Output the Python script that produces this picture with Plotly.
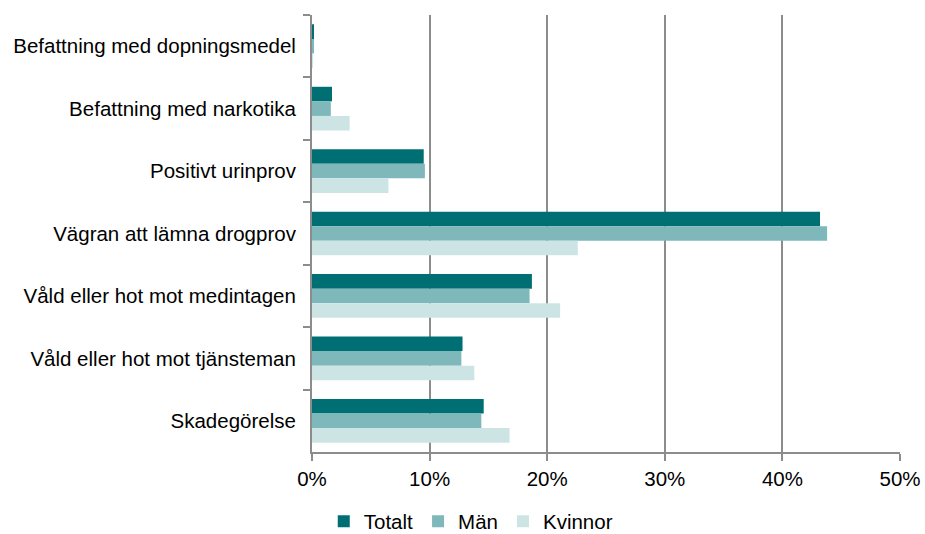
import plotly.graph_objects as go

categories = ['Befattning med dopningsmedel', 'Befattning med narkotika', 'Positivt urinprov',
              'Vägran att lämna drogprov', 'Våld eller hot mot medintagen',
              'Våld eller hot mot tjänsteman', 'Skadegörelse']

totalt = [0.1, 1.7, 9.5, 43.2, 18.7, 12.8, 14.6]
man = [0.1, 1.6, 9.6, 43.8, 18.5, 12.7, 14.4]
kvinnor = [0.05, 3.2, 6.5, 22.6, 21.1, 13.8, 16.8]

x_ticks = [0, 10, 20, 30, 40, 50]
x_tick_text = ['0%', '10%', '20%', '30%', '40%', '50%']

grey = '#8c8c8c'

fig = go.Figure()
fig.add_trace(go.Bar(y=categories, x=totalt, name='Totalt', orientation='h',
                     marker=dict(color='#006f73', line=dict(width=0))))
fig.add_trace(go.Bar(y=categories, x=man, name='Män', orientation='h',
                     marker=dict(color='#7fb8bb', line=dict(width=0))))
fig.add_trace(go.Bar(y=categories, x=kvinnor, name='Kvinnor', orientation='h',
                     marker=dict(color='#cde4e5', line=dict(width=0))))

fig.update_layout(
    width=925, height=534,
    margin=dict(l=312, r=25, t=15, b=82, autoexpand=False),
    plot_bgcolor='white', paper_bgcolor='white',
    font=dict(family='Liberation Sans, Arial, sans-serif', size=20.5, color='black'),
    barmode='group', bargap=0.3, bargroupgap=0,
    showlegend=True,
    legend=dict(orientation='h', x=0.27, xanchor='center', y=-0.113, yanchor='top',
                font=dict(size=20.5), itemwidth=30, tracegroupgap=0),
    xaxis=dict(range=[0, 50], tickvals=x_ticks, ticktext=x_tick_text,
               showgrid=True, gridcolor=grey, gridwidth=2,
               showline=True, linecolor=grey, linewidth=2,
               ticks='outside', ticklen=7, tickcolor=grey, tickwidth=2,
               zeroline=False, automargin=False),
    yaxis=dict(autorange='reversed', showline=True, linecolor=grey, linewidth=2,
               ticks='outside', ticklen=7, tickcolor=grey, tickwidth=2,
               tickson='boundaries', showgrid=False, ticklabelstandoff=10,
               automargin=False),
)

# drop the default page margin so the figure fills the window exactly
fig.write_html("out.html", config={'displayModeBar': False},
               post_script="document.body.style.margin='0';")
